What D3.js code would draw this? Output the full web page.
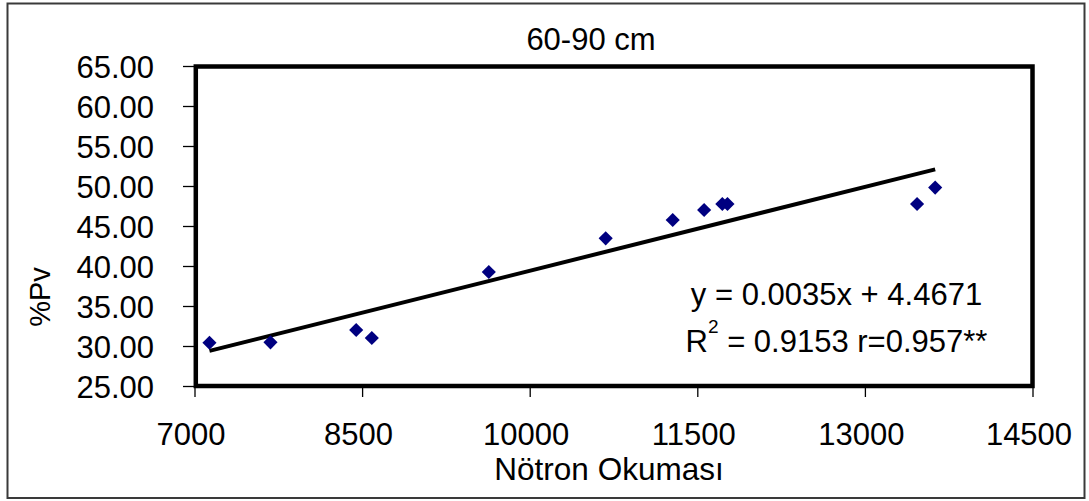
<!DOCTYPE html>
<html>
<head>
<meta charset="utf-8">
<script src="https://cdn.jsdelivr.net/npm/d3@7"></script>
<style>
  body { margin: 0; background: #fff; }
  text { font-family: "Liberation Sans", Arial, sans-serif; fill: #000; }
</style>
</head>
<body>
<div id="chart"></div>
<script>
// neutron readings and volumetric moisture (%Pv), 60-90 cm
var notron = [7134, 7680, 8447, 8587, 9634, 10680, 11280, 11561, 11724, 11770, 13467, 13629];
var pv = [30.41, 30.46, 32.0, 31.0, 39.25, 43.46, 45.75, 47.0, 47.75, 47.75, 47.75, 49.8];
var xTicks = [7000, 8500, 10000, 11500, 13000, 14500];
var yTicks = [25, 30, 35, 40, 45, 50, 55, 60, 65];
var titleText = "60-90 cm";
var xTitle = "Nötron Okuması";
var yTitle = "%Pv";
var eqLine1 = "y = 0.0035x + 4.4671";

var W = 1089, H = 501;

var svg = d3.select("#chart")
  .append("svg")
    .attr("width", W)
    .attr("height", H);

// outer chart frame
svg.append("rect")
  .attr("x", 7.5).attr("y", 3.5)
  .attr("width", 1077).attr("height", 494.5)
  .attr("fill", "#fff")
  .attr("stroke", "#3a3a3a")
  .attr("stroke-width", 2);

var x = d3.scaleLinear().domain([7000, 14500]).range([194.5, 1032.5]);
var y = d3.scaleLinear().domain([25, 65]).range([386, 66]);

// y axis ticks + labels
var yAxis = svg.append("g")
  .attr("transform", "translate(194,0)")
  .call(d3.axisLeft(y).tickValues(yTicks).tickSize(11).tickFormat(d3.format(".2f")));
yAxis.select(".domain").remove();
yAxis.selectAll("line").attr("stroke", "#000").attr("stroke-width", 1.3);
yAxis.selectAll("text")
  .attr("font-size", 31)
  .attr("font-family", "'Liberation Sans', Arial, sans-serif")
  .attr("x", -40)
  .attr("dy", "0.36em");

// x axis ticks + labels
var xAxis = svg.append("g")
  .attr("transform", "translate(0,386)")
  .call(d3.axisBottom(x).tickValues(xTicks).tickSize(11).tickFormat(d3.format("d")));
xAxis.select(".domain").remove();
xAxis.selectAll("line").attr("stroke", "#000").attr("stroke-width", 1.3);
xAxis.selectAll("text")
  .attr("font-size", 31)
  .attr("font-family", "'Liberation Sans', Arial, sans-serif")
  .attr("x", -4)
  .attr("y", 59)
  .attr("dy", 0);

// plot area border
svg.append("rect")
  .attr("x", x(7000) + 1.3).attr("y", y(65) + 0.5)
  .attr("width", x(14500) - x(7000) - 1.3)
  .attr("height", y(25) - y(65) - 0.5)
  .attr("fill", "none")
  .attr("stroke", "#000")
  .attr("stroke-width", 4.5);

// least squares trend line
var mx = d3.mean(notron), my = d3.mean(pv);
var sxy = d3.sum(notron, function (d, i) { return (d - mx) * (pv[i] - my); });
var sxx = d3.sum(notron, function (d) { return (d - mx) * (d - mx); });
var slope = sxy / sxx, icpt = my - slope * mx;
var ext = d3.extent(notron);
svg.append("path")
  .datum(ext)
  .attr("d", d3.line()
    .x(function (d) { return x(d); })
    .y(function (d) { return y(slope * d + icpt); }))
  .attr("stroke", "#000")
  .attr("stroke-width", 4)
  .attr("fill", "none");

// diamond markers
svg.selectAll(".pt")
  .data(notron)
  .enter()
  .append("path")
    .attr("class", "pt")
    .attr("d", d3.symbol(d3.symbolSquare, 100))
    .attr("transform", function (d, i) { return "translate(" + x(d) + "," + y(pv[i]) + ") rotate(45)"; })
    .attr("fill", "#000080");

// title
svg.append("text")
  .attr("x", 591).attr("y", 50)
  .attr("text-anchor", "middle")
  .attr("font-size", 31)
  .text(titleText);

// axis titles
svg.append("text")
  .attr("x", 609).attr("y", 480)
  .attr("text-anchor", "middle")
  .attr("font-size", 31.5)
  .text(xTitle);

svg.append("text")
  .attr("transform", "translate(50,297) rotate(-90)")
  .attr("text-anchor", "middle")
  .attr("font-size", 29)
  .text(yTitle);

// regression equation
svg.append("text")
  .attr("x", 836.5).attr("y", 305)
  .attr("text-anchor", "middle")
  .attr("font-size", 31)
  .text(eqLine1);

var eq2 = svg.append("text")
  .attr("x", 836.5).attr("y", 352)
  .attr("text-anchor", "middle")
  .attr("font-size", 31);
eq2.append("tspan").text("R");
eq2.append("tspan").attr("font-size", 19).attr("dy", -19).text("2");
eq2.append("tspan").attr("dy", 19).text(" = 0.9153 r=0.957**");
</script>
</body>
</html>
